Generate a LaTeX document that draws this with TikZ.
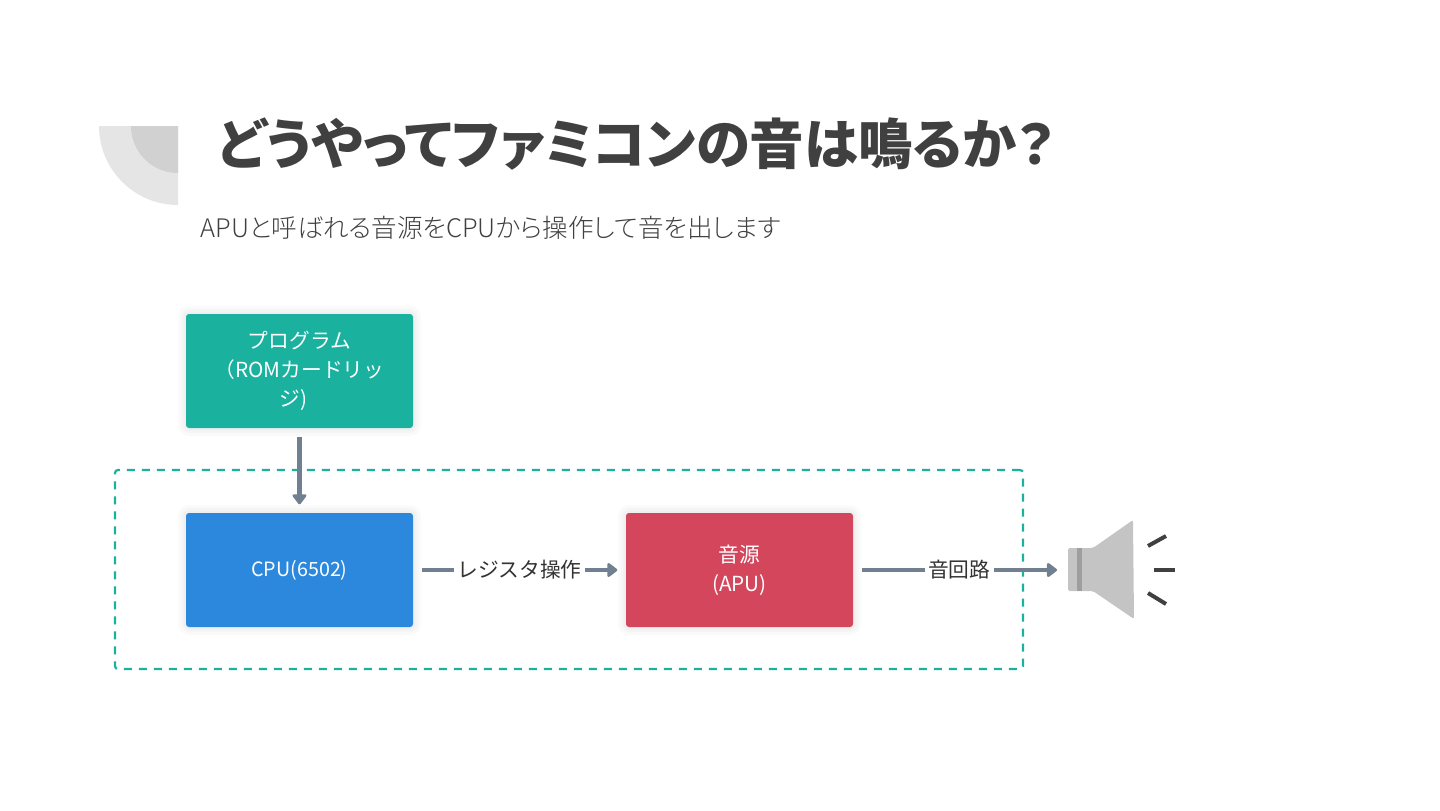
\documentclass[tikz,border=0pt]{standalone}
\usepackage{fontspec}
\setmainfont{Noto Sans CJK JP}
\newfontfamily\titlefont[RawFeature=+palt]{Noto Sans CJK JP Black}
\newfontfamily\subfont[RawFeature=+palt]{Noto Sans CJK JP Light}
\usepackage{xcolor}
\usetikzlibrary{arrows.meta}
\definecolor{progcol}{HTML}{1AB19F}
\definecolor{cpucol}{HTML}{2C88DC}
\definecolor{apucol}{HTML}{D3465C}
\definecolor{flowcol}{HTML}{708090}
\definecolor{inkcol}{HTML}{404040}
\tikzset{
    softedge/.style={preaction={draw=black,draw opacity=.018,line width=#1,line join=round}},
    unitbox/.style={minimum width=2.27cm,minimum height=1.14cm,inner sep=0pt,rounded corners=.03cm,text=white,align=center,font=\fontsize{5.9}{8.2}\selectfont,softedge=.16cm,softedge=.1cm,softedge=.05cm},
    flow/.style={draw=flowcol,line width=.045cm,-{Triangle[round,length=.11cm,width=.16cm]},shorten <=.08cm,shorten >=.08cm},
    flowlabel/.style={fill=white,text=black!80,inner xsep=.035cm,inner ysep=.02cm,font=\fontsize{5.9}{7}\selectfont},
    wave/.style={draw=inkcol,line width=.04cm}
}
\begin{document}
\begin{tikzpicture}
            \useasboundingbox (0,0) rectangle (14.4,8.1);
            \fill[black!10] (1.78,6.84) -- (0.99,6.84) arc[start angle=180,end angle=270,radius=.79] -- cycle;
            \fill[black!18] (1.78,6.84) -- (1.31,6.84) arc[start angle=180,end angle=270,radius=.47] -- cycle;
            \node[anchor=west,inner sep=0pt,text=inkcol,font=\fontsize{15.5}{18}\titlefont] (title) at (2.17,6.66) {どうやってファミコンの音は鳴るか？};
            \node[anchor=west,inner sep=0pt,text=inkcol,font=\fontsize{7.27}{9}\subfont] (subtitle) at (2.00,5.82) {APUと呼ばれる音源をCPUから操作して音を出します};
            \node[draw=progcol,dash pattern=on .08cm off .07cm,line width=.022cm,rounded corners=.03cm,minimum width=9.08cm,minimum height=1.99cm] (group) at (5.69,2.405) {};
            \node[unitbox,fill=progcol] (prog) at (2.995,4.39) {プログラム\\（ROMカードリッ\\ジ)\hspace*{.12cm}};
            \node[unitbox,fill=cpucol] (cpu) at (2.995,2.40) {\fontsize{5.6}{8}\selectfont\raisebox{-.02cm}{CPU(6502)}};
            \node[unitbox,fill=apucol] (apu) at (7.395,2.40) {音源\\(APU)};
            \coordinate (spk) at (10.65,2.40);
            \draw[flow] (prog) -- (cpu);
            \draw[flow] (cpu) -- node[flowlabel] (regop) {レジスタ操作} (apu);
            \draw[flow] (apu) -- node[flowlabel] (circuit) {音回路} (spk);
            \fill[black!23,rounded corners=.02cm] (10.68,2.62) -- (10.93,2.62) -- (11.33,2.90) -- (11.34,1.91) -- (10.93,2.19) -- (10.68,2.19) -- cycle;
            \fill[black!38] (10.77,2.62) rectangle (10.82,2.19);
            \draw[wave] (11.48,2.64) -- (11.66,2.74);
            \draw[wave] (11.54,2.40) -- (11.75,2.40);
            \draw[wave] (11.48,2.17) -- (11.66,2.06);
        \end{tikzpicture}
\end{document}
